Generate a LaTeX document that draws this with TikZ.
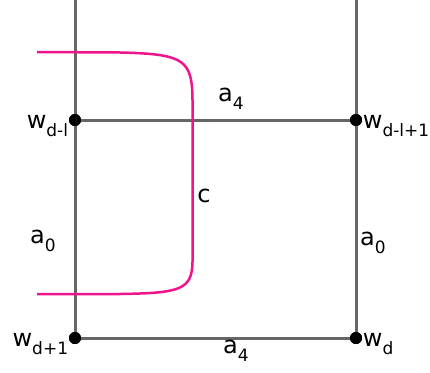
\documentclass[tikz,border=0pt]{standalone}
\usepackage{fontspec}
\setmainfont{DejaVu Sans}
\definecolor{hotpink}{RGB}{240,20,140}
\newcommand{\lsub}[1]{\raisebox{-0.33em}{\fontsize{17}{19}\selectfont #1}}
\begin{document}
\begin{tikzpicture}[x=1pt,y=-1pt,
  edge/.style={draw=black!60, line width=3pt},
  curve/.style={draw=hotpink, line width=2.5pt},
  vtx/.style={circle, fill=black, inner sep=0pt, minimum size=12pt},
  lbl/.style={font=\fontsize{24}{26}\selectfont, inner sep=0.5pt}]
\useasboundingbox (0,0) rectangle (430,372);
\coordinate (tl) at (75,0);
\coordinate (tr) at (356,0);
\node[vtx] (A) at (75,120) {};
\node[vtx] (B) at (356,120) {};
\node[vtx] (C) at (75,338) {};
\node[vtx] (D) at (356,338) {};
\draw[edge] (tl) -- (A.center) -- (C.center) -- (D.center) -- (B.center) -- (tr);
\draw[edge] (A.center) -- (B.center);
\node[vtx] at (A) {};
\node[vtx] at (B) {};
\node[vtx] at (C) {};
\node[vtx] at (D) {};
\draw[curve] (37,52) -- (120,52.5) .. controls (185,54) and (192,60) .. (192.5,100)
  -- (192.5,262) .. controls (192,290) and (180,293) .. (120,294) -- (37,294);
\node[lbl, anchor=east] at ([yshift=-6pt]A.west) {w\lsub{d-l}};
\node[lbl, anchor=west] at ([yshift=-6pt]B.east) {w\lsub{d-l+1}};
\node[lbl, anchor=east] at ([yshift=-6pt]C.west) {w\lsub{d+1}};
\node[lbl, anchor=west] at ([yshift=-6pt]D.east) {w\lsub{d}};
\node[lbl] at (231,99) {a\lsub{4}};
\node[lbl] at (236,351) {a\lsub{4}};
\node[lbl] at (204,196) {c};
\node[lbl] at (43,241) {a\lsub{0}};
\node[lbl] at (373,243) {a\lsub{0}};
\end{tikzpicture}
\end{document}
